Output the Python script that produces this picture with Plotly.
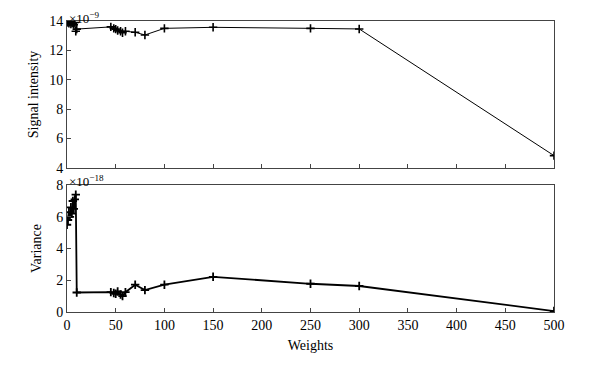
import plotly.graph_objects as go

weights = [0, 1, 2, 3, 4, 5, 6, 7, 8, 9, 10,
           45, 48, 50, 52, 55, 57, 60, 70, 80, 100, 150, 250, 300, 500]
# Signal intensity in units of 1e-9
signal = [13.95, 13.9, 13.85, 13.95, 13.8, 13.9, 13.85, 13.75, 13.9, 13.3, 13.45,
          13.6, 13.5, 13.45, 13.35, 13.3, 13.2, 13.3, 13.23, 13.05, 13.5, 13.57, 13.5, 13.46, 4.84]
# Variance in units of 1e-18
variance = [5.5, 5.8, 6.3, 6.0, 6.6, 6.2, 7.0, 6.5, 7.1, 7.4, 1.23,
            1.25, 1.2, 1.15, 1.3, 1.1, 1.0, 1.25, 1.72, 1.38, 1.72, 2.22, 1.78, 1.64, 0.06]

x_ticks = list(range(0, 501, 50))
font = dict(family="Liberation Serif", size=14, color="black")
ann_font = dict(family="Liberation Serif", size=13, color="black")

fig = go.Figure()
fig.add_trace(go.Scatter(x=weights, y=signal, mode="lines+markers",
                         line=dict(color="black", width=1),
                         marker=dict(symbol="cross-thin", size=6, line=dict(color="black", width=1.6)),
                         xaxis="x", yaxis="y", showlegend=False))
fig.add_trace(go.Scatter(x=weights, y=variance, mode="lines+markers",
                         line=dict(color="black", width=1.8),
                         marker=dict(symbol="cross-thin", size=6, line=dict(color="black", width=1.8)),
                         xaxis="x2", yaxis="y2", showlegend=False))

axis_common = dict(showline=True, linecolor="#444", linewidth=1, mirror=True,
                   ticks="inside", ticklen=4, tickcolor="#444", showgrid=False,
                   zeroline=False, tickfont=font, automargin=False)

fig.update_layout(
    width=589, height=357,
    margin=dict(l=59, r=43, t=13, b=53),
    paper_bgcolor="white", plot_bgcolor="white",
    font=font,
    xaxis=dict(domain=[0, 1], anchor="y", range=[0, 500], tickvals=x_ticks,
               showticklabels=False, **axis_common),
    yaxis=dict(domain=[0.495, 1], anchor="x", range=[4, 14], tickvals=[4, 6, 8, 10, 12, 14],
               title=dict(text="Signal intensity", font=font, standoff=7), **axis_common),
    xaxis2=dict(domain=[0, 1], anchor="y2", range=[0, 500], tickvals=x_ticks,
                title=dict(text="Weights", font=font, standoff=8), **axis_common),
    yaxis2=dict(domain=[0, 0.436], anchor="x2", range=[0, 8], tickvals=[0, 2, 4, 6, 8],
                title=dict(text="Variance", font=font, standoff=11), **axis_common),
    annotations=[
        dict(text="×10<sup>−9</sup>", xref="paper", yref="paper", x=0, y=1.0,
             xanchor="left", yanchor="bottom", showarrow=False, font=ann_font, yshift=-7),
        dict(text="×10<sup>−18</sup>", xref="paper", yref="paper", x=0, y=0.436,
             xanchor="left", yanchor="bottom", showarrow=False, font=ann_font, yshift=-6),
    ],
)

fig.write_html("out.html")
